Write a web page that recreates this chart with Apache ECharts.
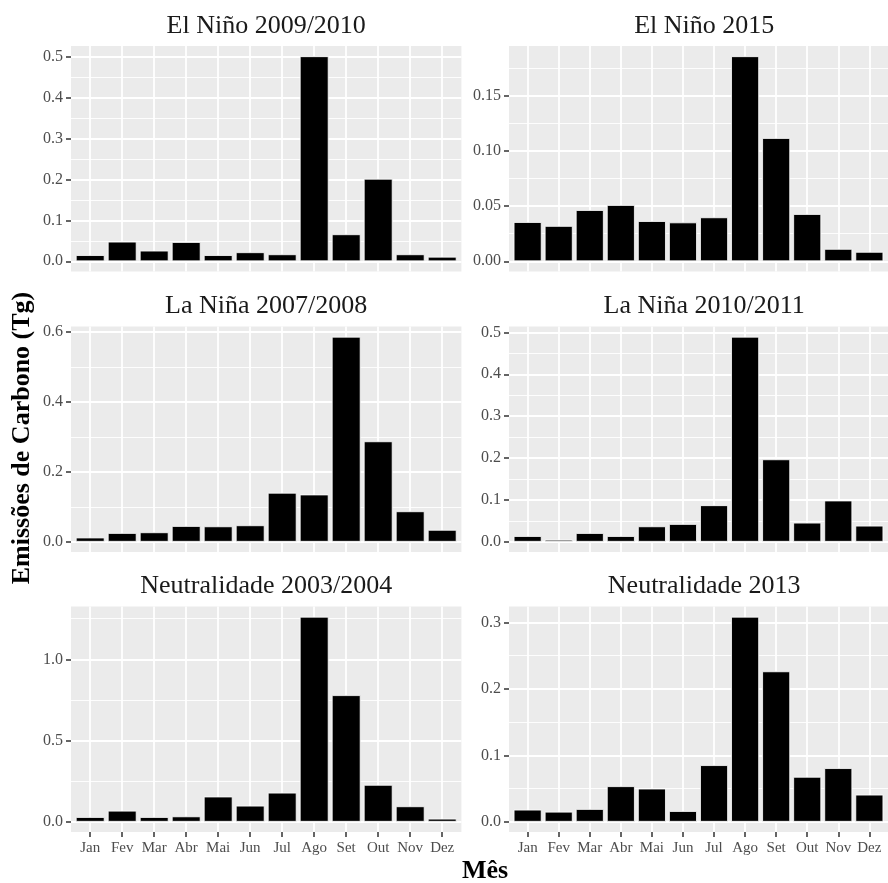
<!DOCTYPE html>
<html>
<head>
<meta charset="utf-8">
<script src="https://cdn.jsdelivr.net/npm/echarts@6/dist/echarts.min.js"></script>
<style>
  html, body { margin: 0; padding: 0; background: #fff; }
  #chart { width: 888px; height: 883px; }
</style>
</head>
<body>
<div id="chart"></div>
<script>
// meses (eixo x)
const months = ['Jan', 'Fev', 'Mar', 'Abr', 'Mai', 'Jun', 'Jul', 'Ago', 'Set', 'Out', 'Nov', 'Dez'];

// emissões mensais por evento (Tg)
const elNino0910 = [0.015, 0.048, 0.026, 0.047, 0.015, 0.022, 0.017, 0.502, 0.066, 0.202, 0.017, 0.011];
const elNino2015 = [0.0355, 0.032, 0.0464, 0.051, 0.0364, 0.0352, 0.0398, 0.1858, 0.1117, 0.0428, 0.0112, 0.0085];
const laNina0708 = [0.012, 0.025, 0.027, 0.045, 0.044, 0.047, 0.140, 0.135, 0.586, 0.287, 0.087, 0.034];
const laNina1011 = [0.0136, 0.0048, 0.0208, 0.0136, 0.0368, 0.0424, 0.0872, 0.4896, 0.1968, 0.0456, 0.0984, 0.0384];
const neutro0304 = [0.029, 0.068, 0.029, 0.033, 0.155, 0.099, 0.179, 1.262, 0.779, 0.227, 0.095, 0.019];
const neutro2013 = [0.0182, 0.0151, 0.0192, 0.0535, 0.0499, 0.0161, 0.0852, 0.3086, 0.2264, 0.0676, 0.0807, 0.0408];

// títulos e marcas do eixo y de cada painel
const titles = ['El Niño 2009/2010', 'El Niño 2015', 'La Niña 2007/2008', 'La Niña 2010/2011', 'Neutralidade 2003/2004', 'Neutralidade 2013'];
const seriesList = [elNino0910, elNino2015, laNina0708, laNina1011, neutro0304, neutro2013];
const yTicks = [
  [0, 0.1, 0.2, 0.3, 0.4, 0.5],
  [0, 0.05, 0.10, 0.15],
  [0, 0.2, 0.4, 0.6],
  [0, 0.1, 0.2, 0.3, 0.4, 0.5],
  [0, 0.5, 1.0],
  [0, 0.1, 0.2, 0.3]
];
const yDecimals = [1, 2, 1, 1, 1, 1];

// layout
const band = 32;
const panelW = band * 12.2;
const panelH = 225.5;
const colLeft = [71, 509];
const rowTop = [46, 326.5, 606.5];
const font = 'Liberation Serif';

const grids = [], xAxes = [], yAxes = [], series = [], graphics = [];

seriesList.forEach((values, i) => {
  const col = i % 2, row = Math.floor(i / 2);
  const isBottom = row === 2;
  const maxVal = Math.max(...values);
  const yMin = -0.05 * maxVal, yMax = 1.05 * maxVal;
  const ticks = yTicks[i];
  const step = ticks[1] - ticks[0];
  const minor = ticks.map(t => +(t + step / 2).toFixed(5));

  grids.push({
    left: colLeft[col], top: rowTop[row], width: panelW, height: panelH,
    show: true, backgroundColor: '#EBEBEB', borderWidth: 0
  });

  xAxes.push({
    type: 'value', gridIndex: i, min: -0.6, max: 11.6,
    axisLine: { show: false, onZero: false },
    axisTick: {
      show: isBottom, customValues: months.map((m, k) => k),
      length: 5, lineStyle: { color: '#333333', width: 1.5 }
    },
    axisLabel: {
      show: isBottom, customValues: months.map((m, k) => k),
      formatter: v => months[Math.round(v)] || '',
      margin: 9, fontFamily: font, fontSize: 15, color: '#4D4D4D'
    },
    splitLine: { show: true, lineStyle: { color: '#FFFFFF', width: 1.8 } }
  });

  // eixo y principal
  yAxes.push({
    type: 'value', gridIndex: i, min: yMin, max: yMax,
    axisLine: { show: false, onZero: false },
    axisTick: { show: true, customValues: ticks, length: 5, lineStyle: { color: '#333333', width: 1.5 } },
    axisLabel: {
      customValues: ticks, formatter: v => v.toFixed(yDecimals[i]),
      margin: 8, fontFamily: font, fontSize: 16, color: '#4D4D4D'
    },
    splitLine: { show: true, lineStyle: { color: '#FFFFFF', width: 1.8 } }
  });
  // eixo y auxiliar só para as linhas menores
  yAxes.push({
    type: 'value', gridIndex: i, min: yMin, max: yMax,
    axisLine: { show: false, onZero: false },
    axisTick: { show: false, customValues: minor },
    axisLabel: { show: false, customValues: minor },
    splitLine: { show: true, lineStyle: { color: '#FFFFFF', width: 0.9 } }
  });

  series.push({
    type: 'bar', xAxisIndex: i, yAxisIndex: 2 * i,
    barWidth: '90%',
    data: values.map((v, k) => [k, v]),
    itemStyle: { color: '#000000', borderColor: '#FFFFFF', borderWidth: 0.8 },
    silent: true
  });

  graphics.push({
    type: 'text',
    x: colLeft[col] + panelW / 2, y: rowTop[row] - 20,
    style: {
      text: titles[i], fontFamily: font, fontSize: 26, fill: '#1A1A1A',
      align: 'center', verticalAlign: 'middle', textAlign: 'center', textVerticalAlign: 'middle'
    }
  });
});

// títulos dos eixos
graphics.push({
  type: 'text', x: 22, y: 438, rotation: Math.PI / 2,
  style: {
    text: 'Emissões de Carbono (Tg)', fontFamily: font, fontSize: 26, fontWeight: 'bold', fill: '#000',
    align: 'center', verticalAlign: 'middle', textAlign: 'center', textVerticalAlign: 'middle'
  }
});
graphics.push({
  type: 'text', x: 485, y: 871,
  style: {
    text: 'Mês', fontFamily: font, fontSize: 26, fontWeight: 'bold', fill: '#000',
    align: 'center', verticalAlign: 'middle', textAlign: 'center', textVerticalAlign: 'middle'
  }
});

const chart = echarts.init(document.getElementById('chart'), null, { renderer: 'canvas' });
chart.setOption({
  animation: false,
  backgroundColor: '#FFFFFF',
  grid: grids,
  xAxis: xAxes,
  yAxis: yAxes,
  series: series,
  graphic: graphics
});
</script>
</body>
</html>
